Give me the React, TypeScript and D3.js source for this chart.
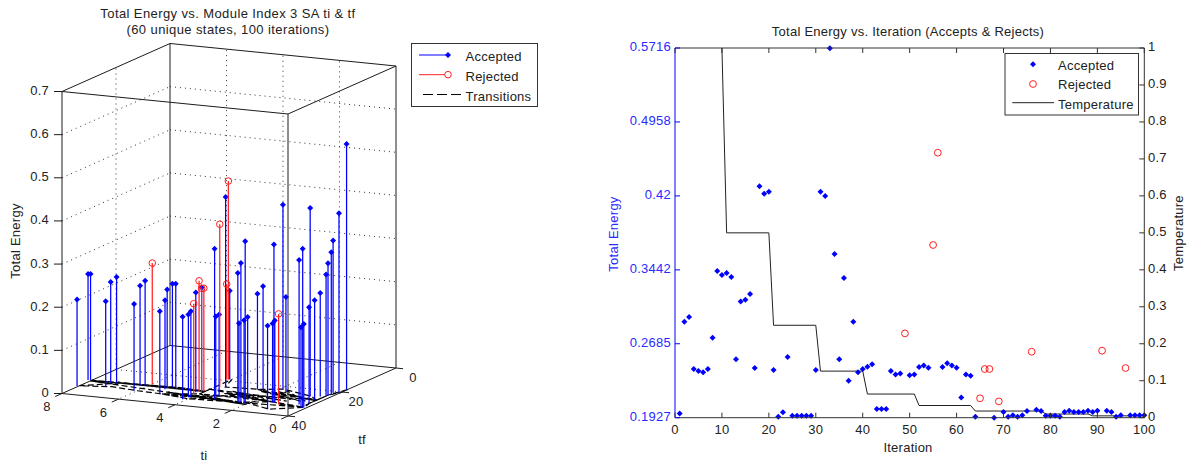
import React from "react";
import * as d3 from "d3";

// ---------- 3-D stem chart data (ti, tf, total energy) ----------
const acceptedTi = [8.06,8.12,8.05,7.16,7.27,7.1,6.09,6.24,6.09,5.13,5.3,5.3,5.21,5.11,4.14,4.1,4.03,4.21,4.1,3.21,3.37,3.27,3.67,4.06,2.34,2.31,2.25,2.09,2.06,2.25,2.61,2.45,1.02,1.33,1.26,1.29,1.87,1.65,0.42,0.18,0.13,0.09,0.2,0.62,0.3,0.33,0.22,0.17,0.14,0.21,0.04,0.01];
const acceptedTf = [33.8,29.1,28.9,32.6,29.6,29.2,33.3,29.5,29.2,33.8,30.1,29.3,28.3,28.1,35.7,34,33.8,30.1,29.1,33.6,31.5,31.3,24.7,19.1,34.1,34,33.9,34.4,34.3,31.4,24,23.6,36.9,31.8,31.7,31.7,22.3,23.5,31.5,33.3,33.2,33.2,30.1,25.3,27,24.6,23.6,23.4,22.5,21.1,20.7,18.2];
const acceptedE = [0.2,0.246,0.246,0.199,0.234,0.246,0.201,0.232,0.244,0.192,0.206,0.229,0.24,0.24,0.191,0.192,0.199,0.231,0.241,0.349,0.185,0.19,0.441,0.206,0.3,0.183,0.323,0.193,0.376,0.191,0.222,0.239,0.194,0.183,0.19,0.366,0.428,0.219,0.335,0.186,0.368,0.194,0.223,0.437,0.23,0.24,0.281,0.307,0.33,0.353,0.416,0.57];
const rejectedTi = [5.99,4.14,4.18,4.1,4.04,3.84,4.15,4.1,1.02];
const rejectedTf = [27.6,31.6,29.2,29.1,28.9,25.1,19.3,19.2,32.8];
const rejectedE = [0.281,0.21,0.256,0.239,0.239,0.378,0.221,0.46,0.21];
const transitionTi = [8,6,4,5,7,8,7,6,5.1,4,3.2,2.3,2,1,0.1,1.3,2.2,3.3,4,5.1,4,4,5.2,6,7.1,8,5,4,4,3.7,2.6,2.4,1.9,0.6,0.3,0.2,0.1,1,1.3,2.3,3.2,5.1,4,0.2,0.2,0,0,0.2,0.2,1.6,2,5,2.1,5.1,2,4.9,3,5,2,4,2.4,3.2,1,3,1.3,3.3,0.2,2.6,0.6,2.4,0.3,1.9,1,4.1,2,4,2.3,5,8,7,7.1,5,4];
const transitionTf = [29,29,29,28,29,33.5,32,33,33.5,35,33,33.7,34,36.6,33,31.5,31,31,33.5,33.5,31,29,29,29,29,29,28,28.8,19,24.5,23.8,23.4,22,25,26.8,30,33,32.5,31.4,33.7,33.3,33.5,35,33,23,20.5,18,23,30,23.3,35,32,34.8,31.8,35,32.2,33.6,31.9,34,32.4,29,27,30,28,31.5,29,27,24,29,25,27.5,24,28.5,27,30,31,34.5,32,29.5,30,28.5,28.5,28.6];
const tiTicks = [8,6,4,2,0];
const tfTicks = [0,20,40];
const energyTicks3d = [0,0.1,0.2,0.3,0.4,0.5,0.6,0.7];

// ---------- 2-D iteration chart data ----------
const acceptedIter = [1,2,3,4,5,6,7,8,9,10,11,12,13,14,15,16,17,18,19,20,21,22,23,24,25,26,27,28,29,30,31,32,33,34,35,36,37,38,39,40,41,42,43,44,45,46,47,48,50,51,52,53,54,57,58,59,60,61,62,63,64,68,70,71,72,73,74,75,77,78,79,80,81,82,83,84,85,86,87,88,89,90,92,93,94,95,97,98,99,100];
const acceptedEnergy = [0.1971,0.2911,0.2959,0.2426,0.2405,0.2392,0.2426,0.2747,0.343,0.339,0.341,0.3369,0.2525,0.3119,0.3136,0.3195,0.2436,0.4299,0.4223,0.4243,0.2416,0.1937,0.1982,0.2549,0.1947,0.1947,0.1947,0.1947,0.1947,0.2416,0.4243,0.4199,0.5713,0.3605,0.2525,0.3359,0.2306,0.2911,0.2392,0.2426,0.245,0.2474,0.2016,0.2016,0.2016,0.2405,0.2371,0.2381,0.2361,0.2371,0.2446,0.2463,0.2439,0.2446,0.2484,0.2463,0.2439,0.2135,0.2371,0.2357,0.1937,0.1927,0.1985,0.1937,0.1951,0.1937,0.1951,0.1995,0.2009,0.1995,0.1947,0.1947,0.1947,0.1937,0.1985,0.1999,0.1985,0.1985,0.1985,0.1999,0.1985,0.1999,0.1999,0.1985,0.1937,0.1951,0.1951,0.1951,0.1951,0.1951];
const rejectedIter = [49,55,56,65,66,67,69,76,91,96];
const rejectedEnergy = [0.2791,0.3697,0.4643,0.2126,0.2426,0.2426,0.2094,0.2603,0.2614,0.2436];
const tempIter = [10,11,20,21,30,31,40,41,51,52,63,64,78,79,88,89,100];
const tempValue = [1,0.5,0.5,0.25,0.25,0.126,0.126,0.064,0.064,0.033,0.033,0.018,0.018,0.01,0.01,0.005,0.005];
const energyTicks = [0.1927,0.2685,0.3442,0.42,0.4958,0.5716];
const energyTickLabels = ["0.1927","0.2685","0.3442","0.42","0.4958","0.5716"];
const iterTicks = [0,10,20,30,40,50,60,70,80,90,100];
const tempTicks = [0,0.1,0.2,0.3,0.4,0.5,0.6,0.7,0.8,0.9,1];

const FONT = "'Liberation Sans', Arial, sans-serif";
const INK = "#222";
const BLUE = "#0000ff";
const BLUE_TEXT = "#2a2aff";
const RED = "#ff2020";

const tiX = d3.scaleLinear().domain([0, 8]).range([0, -226]);
const tiY = d3.scaleLinear().domain([0, 8]).range([0, -22.5]);
const tfX = d3.scaleLinear().domain([0, 40]).range([0, -108]);
const tfY = d3.scaleLinear().domain([0, 40]).range([0, 48]);
const zY = d3.scaleLinear().domain([0, 0.7]).range([0, -302]);
const project = (ti: number, tf: number, z: number): [number, number] => [
  396 + tiX(ti) + tfX(tf),
  368 + tiY(ti) + tfY(tf) + zY(z),
];

const xScale = d3.scaleLinear().domain([0, 100]).range([675, 1144.3]);
const yEnergy = d3.scaleLinear().domain([0.1927, 0.5716]).range([417.7, 48]);
const yTemp = d3.scaleLinear().domain([0, 1]).range([417.7, 48]);
const tempLine = d3.line<number>().x((d) => xScale(d)).y((_, i) => yTemp(tempValue[i]));

const diamond = (x: number, y: number, r = 3) =>
  `M${x},${y - r}L${x + r},${y}L${x},${y + r}L${x - r},${y}Z`;

function Seg3({ a, b, ...rest }: any) {
  const p = project(a[0], a[1], a[2]);
  const q = project(b[0], b[1], b[2]);
  return <line x1={p[0]} y1={p[1]} x2={q[0]} y2={q[1]} {...rest} />;
}

function Txt({ x, y, children, anchor = "start", fill = INK, rotate, size = 13, spacing = 0.25 }: any) {
  return (
    <text
      x={x}
      y={y}
      textAnchor={anchor}
      dominantBaseline="middle"
      fill={fill}
      fontSize={size}
      letterSpacing={spacing}
      transform={rotate ? `rotate(${rotate} ${x} ${y})` : undefined}
    >
      {children}
    </text>
  );
}

function Chart3D() {
  const dots = { stroke: "#333", strokeWidth: 1, strokeDasharray: "1 4" };
  const box = { stroke: "#1c1c1c", strokeWidth: 1 };
  const transitionPath = d3.line()(
    transitionTi.map((ti, i) => project(ti, transitionTf[i], 0))
  ) as string;
  return (
    <g>
      {/* wall and floor grids */}
      {energyTicks3d.slice(1, -1).map((z) => (
        <g key={z}>
          <Seg3 a={[8, 40, z]} b={[8, 0, z]} {...dots} />
          <Seg3 a={[8, 0, z]} b={[0, 0, z]} {...dots} />
        </g>
      ))}
      {[2, 4, 6].map((t) => (
        <g key={t}>
          <Seg3 a={[t, 0, 0]} b={[t, 0, 0.7]} {...dots} />
          <Seg3 a={[t, 0, 0]} b={[t, 40, 0]} {...dots} />
        </g>
      ))}
      <Seg3 a={[8, 20, 0]} b={[8, 20, 0.7]} {...dots} />
      <Seg3 a={[8, 20, 0]} b={[0, 20, 0]} {...dots} />

      {/* back edges */}
      <Seg3 a={[8, 0, 0]} b={[8, 0, 0.7]} {...box} />
      <Seg3 a={[8, 40, 0]} b={[8, 0, 0]} {...box} />
      <Seg3 a={[8, 0, 0]} b={[0, 0, 0]} {...box} />
      <Seg3 a={[8, 40, 0.7]} b={[8, 0, 0.7]} {...box} />
      <Seg3 a={[8, 0, 0.7]} b={[0, 0, 0.7]} {...box} />

      <path d={transitionPath} fill="none" stroke="#000" strokeWidth={1.2} strokeDasharray="6 3" />

      {/* stems */}
      {acceptedTi.map((ti, i) => {
        const [x, y0] = project(ti, acceptedTf[i], 0);
        const [, y1] = project(ti, acceptedTf[i], acceptedE[i]);
        return (
          <g key={i}>
            <line x1={x} y1={y0} x2={x} y2={y1} stroke={BLUE} strokeWidth={1.25} />
            <path d={diamond(x, y1)} fill={BLUE} />
          </g>
        );
      })}
      {rejectedTi.map((ti, i) => {
        const [x, y0] = project(ti, rejectedTf[i], 0);
        const [, y1] = project(ti, rejectedTf[i], rejectedE[i]);
        return (
          <g key={i}>
            <line x1={x} y1={y0} x2={x} y2={y1} stroke={RED} strokeWidth={1.25} />
            <circle cx={x} cy={y1} r={3.3} fill="none" stroke={RED} strokeWidth={1} />
          </g>
        );
      })}

      {/* front edges */}
      <Seg3 a={[8, 40, 0]} b={[8, 40, 0.7]} {...box} />
      <Seg3 a={[0, 40, 0]} b={[0, 40, 0.7]} {...box} />
      <Seg3 a={[0, 0, 0]} b={[0, 0, 0.7]} {...box} />
      <Seg3 a={[8, 40, 0]} b={[0, 40, 0]} {...box} />
      <Seg3 a={[0, 40, 0]} b={[0, 0, 0]} {...box} />
      <Seg3 a={[8, 40, 0.7]} b={[0, 40, 0.7]} {...box} />
      <Seg3 a={[0, 40, 0.7]} b={[0, 0, 0.7]} {...box} />

      {/* ticks */}
      {energyTicks3d.map((z) => {
        const [x, y] = project(8, 40, z);
        return (
          <g key={z}>
            <line x1={x - 8} y1={y} x2={x} y2={y} {...box} />
            <Txt x={49} y={y} anchor="end">{z}</Txt>
          </g>
        );
      })}
      {tiTicks.map((t) => {
        const [x, y] = project(t, 40, 0);
        const [x2, y2] = project(t, 42.5, 0);
        return (
          <g key={t}>
            <line x1={x} y1={y} x2={x2} y2={y2} {...box} />
            <Txt x={x - 15} y={y + 14} anchor="middle">{t}</Txt>
          </g>
        );
      })}
      {tfTicks.map((t) => {
        const [x, y] = project(0, t, 0);
        const [x2, y2] = project(-0.25, t, 0);
        return (
          <g key={t}>
            <line x1={x} y1={y} x2={x2} y2={y2} {...box} />
            <Txt x={x + 17 - t * 0.15} y={y + 10.5} anchor="middle">{t}</Txt>
          </g>
        );
      })}

      <Txt x={204} y={457} anchor="middle">ti</Txt>
      <Txt x={362} y={441} anchor="middle">tf</Txt>
      <Txt x={17} y={241} anchor="middle" rotate={-90}>Total Energy</Txt>
      <Txt x={228} y={15} anchor="middle" spacing={0.4}>Total Energy vs. Module Index 3 SA ti &amp; tf</Txt>
      <Txt x={228} y={31} anchor="middle" spacing={0.4}>(60 unique states, 100 iterations)</Txt>

      {/* legend */}
      <rect x={411.5} y={43.5} width={126} height={63} fill="#fff" stroke="#333" strokeWidth={1} />
      <line x1={419} y1={55} x2={450} y2={55} stroke={BLUE} />
      <path d={diamond(448, 55)} fill={BLUE} />
      <line x1={419} y1={74.7} x2={450} y2={74.7} stroke={RED} />
      <circle cx={448} cy={74.7} r={3.3} fill="#fff" stroke={RED} />
      <line x1={423} y1={94.5} x2={461} y2={94.5} stroke="#000" strokeDasharray="10 4" />
      <Txt x={465.5} y={57.5}>Accepted</Txt>
      <Txt x={465.5} y={77.5}>Rejected</Txt>
      <Txt x={465.5} y={97.5}>Transitions</Txt>
    </g>
  );
}

function ChartIter() {
  const line = { stroke: "#333", strokeWidth: 1 };
  return (
    <g>
      <path d={tempLine(tempIter) as string} fill="none" stroke="#222" strokeWidth={1} />
      {acceptedIter.map((it, i) => (
        <path key={it} d={diamond(xScale(it), yEnergy(acceptedEnergy[i]))} fill={BLUE} />
      ))}
      {rejectedIter.map((it, i) => (
        <circle key={it} cx={xScale(it)} cy={yEnergy(rejectedEnergy[i])} r={3.4} fill="none" stroke={RED} strokeWidth={1} />
      ))}

      {/* box */}
      <line x1={675} y1={48} x2={1144.3} y2={48} {...line} />
      <line x1={675} y1={417.7} x2={1144.3} y2={417.7} {...line} />
      <line x1={1144.3} y1={48} x2={1144.3} y2={417.7} {...line} />
      <line x1={675} y1={48} x2={675} y2={417.7} stroke={BLUE} strokeWidth={1} />

      {iterTicks.map((t) => (
        <g key={t}>
          <line x1={xScale(t)} y1={417.7} x2={xScale(t)} y2={412.7} {...line} />
          <line x1={xScale(t)} y1={48} x2={xScale(t)} y2={53} {...line} />
          <Txt x={xScale(t)} y={431} anchor="middle">{t}</Txt>
        </g>
      ))}
      {energyTicks.map((t, i) => (
        <g key={t}>
          <line x1={675} y1={yEnergy(t)} x2={680} y2={yEnergy(t)} stroke={BLUE} />
          <Txt x={671} y={yEnergy(t)} anchor="end" fill={BLUE_TEXT}>{energyTickLabels[i]}</Txt>
        </g>
      ))}
      {tempTicks.map((t) => (
        <g key={t}>
          <line x1={1144.3} y1={yTemp(t)} x2={1139.3} y2={yTemp(t)} {...line} />
          <Txt x={1148} y={yTemp(t)}>{t}</Txt>
        </g>
      ))}

      <Txt x={908} y={33} anchor="middle">Total Energy vs. Iteration (Accepts &amp; Rejects)</Txt>
      <Txt x={908} y={449} anchor="middle">Iteration</Txt>
      <Txt x={615} y={234} anchor="middle" rotate={-90} fill={BLUE_TEXT}>Total Energy</Txt>
      <Txt x={1180} y={233} anchor="middle" rotate={-90}>Temperature</Txt>

      {/* legend */}
      <rect x={1005} y={53.5} width={133.5} height={61.5} fill="#fff" stroke="#333" strokeWidth={1} />
      <path d={diamond(1033, 64.3)} fill={BLUE} />
      <circle cx={1033} cy={84} r={3.4} fill="none" stroke={RED} />
      <line x1={1012.3} y1={102.7} x2={1054} y2={102.7} stroke="#222" />
      <Txt x={1058} y={66.7}>Accepted</Txt>
      <Txt x={1058} y={86}>Rejected</Txt>
      <Txt x={1058} y={105.5}>Temperature</Txt>
    </g>
  );
}

export default function App() {
  return (
    <svg
      width={1188}
      height={463}
      viewBox="0 0 1188 463"
      style={{ position: "absolute", left: 0, top: 0, background: "#fff", fontFamily: FONT }}
    >
      <Chart3D />
      <ChartIter />
    </svg>
  );
}
